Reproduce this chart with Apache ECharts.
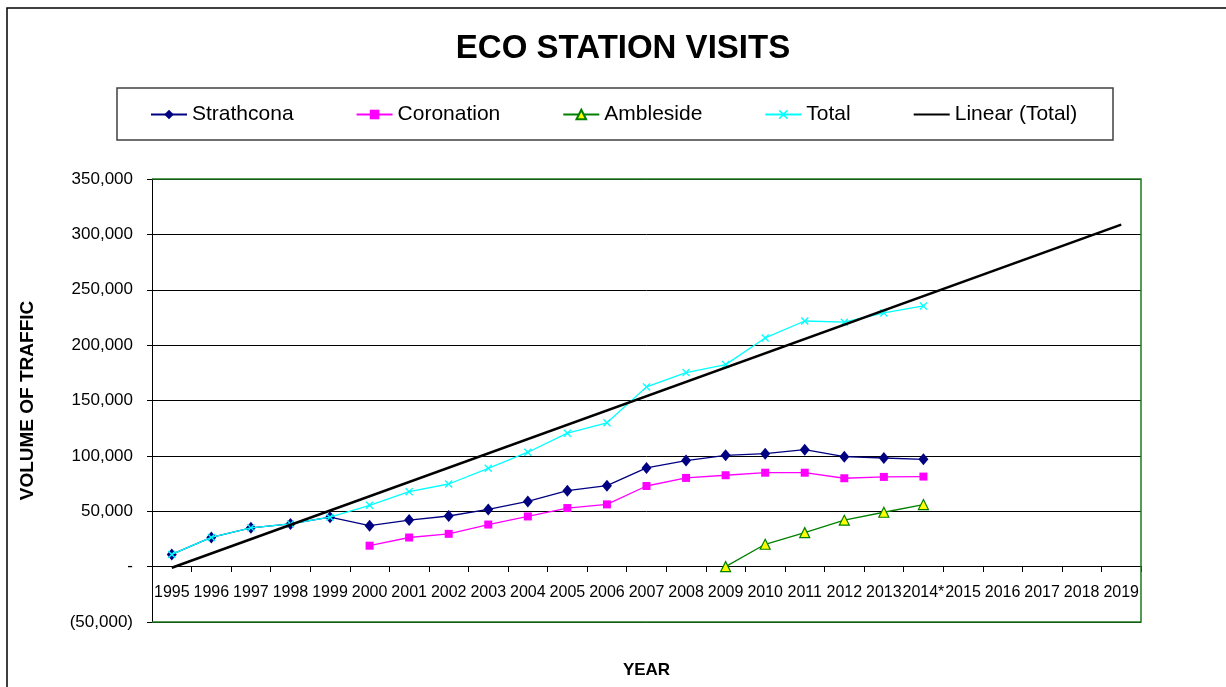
<!DOCTYPE html>
<html>
<head>
<meta charset="utf-8">
<script src="https://cdn.jsdelivr.net/npm/echarts@6/dist/echarts.min.js"></script>
<style>html,body{margin:0;padding:0;background:#fff;}#c{width:1226px;height:687px;}</style>
</head>
<body>
<div id="c"></div>
<script>
var categories = ['1995','1996','1997','1998','1999','2000','2001','2002','2003','2004','2005','2006','2007','2008','2009','2010','2011','2012','2013','2014*','2015','2016','2017','2018','2019'];
var strathcona = [11000, 26400, 35000, 38600, 44600, 37000, 42000, 45700, 51600, 58900, 68600, 73100, 89100, 95800, 100500, 102000, 105600, 99300, 98100, 96900];
var coronation = [null, null, null, null, null, 18900, 26300, 29600, 38000, 45300, 52900, 56200, 72800, 80100, 82500, 84800, 84800, 79800, 81000, 81300];
var ambleside = [null, null, null, null, null, null, null, null, null, null, null, null, null, null, 0, 20200, 30700, 41900, 49100, 56000];
var total = [11000, 26400, 35000, 38600, 44600, 55400, 67700, 74600, 88800, 103300, 120500, 129900, 162300, 175200, 182400, 206500, 221800, 220700, 229100, 235400];
var trendTotal = [-1000, null, null, null, null, null, null, null, null, null, null, null, null, null, null, null, null, null, null, null, null, null, null, null, 308800];

var FONT = 'Liberation Sans, Arial, sans-serif';
var G = {left: 152, right: 1141, top: 179, bottom: 622};
var zeroOffset = 56; // distance from plot bottom (-50,000) up to the 0 line

function fmtY(v) {
  if (v === 0) return '-';
  var s = String(Math.abs(v)).replace(/\B(?=(\d{3})+(?!\d))/g, ',');
  return v < 0 ? '(' + s + ')' : s;
}

var chart = echarts.init(document.getElementById('c'), null, {renderer: 'canvas'});
chart.setOption({
  animation: false,
  backgroundColor: '#fff',
  title: {
    text: 'ECO STATION VISITS',
    left: 618, top: 27, textAlign: 'center',
    textStyle: {fontFamily: FONT, fontSize: 33, fontWeight: 'bold', color: '#000'}
  },
  legend: {
    left: 150, top: 104, padding: 0, itemGap: 62, itemWidth: 36, itemHeight: 12,
    textStyle: {fontFamily: FONT, fontSize: 21, color: '#000'},
    data: ['Strathcona', 'Coronation', 'Ambleside', 'Total',
      {name: 'Linear (Total)', itemStyle: {opacity: 0}}]
  },
  grid: {left: G.left, right: 1226 - G.right, top: G.top, bottom: 687 - G.bottom, containLabel: false},
  xAxis: {
    type: 'category', data: categories, boundaryGap: true, position: 'bottom', offset: -zeroOffset,
    name: 'YEAR', nameLocation: 'middle', nameGap: 96, nameMoveOverlap: false,
    nameTextStyle: {fontFamily: FONT, fontSize: 17, fontWeight: 'bold', color: '#000'},
    axisLine: {show: true, onZero: false, lineStyle: {color: '#000', width: 1}},
    axisTick: {show: true, inside: false, length: 6, lineStyle: {color: '#000'}},
    axisLabel: {interval: 0, margin: 19, fontFamily: FONT, fontSize: 16, color: '#000'},
    splitLine: {show: false}
  },
  yAxis: {
    type: 'value', min: -50000, max: 350000, interval: 50000,
    name: 'VOLUME OF TRAFFIC', nameLocation: 'middle', nameGap: 115, nameRotate: 90,
    nameTextStyle: {fontFamily: FONT, fontSize: 19, fontWeight: 'bold', color: '#000'},
    axisLine: {show: true, onZero: false, lineStyle: {color: '#000', width: 1}},
    axisTick: {show: true, length: 5, lineStyle: {color: '#000'}},
    axisLabel: {margin: 19, fontFamily: FONT, fontSize: 17, color: '#000', formatter: fmtY},
    splitLine: {show: true, lineStyle: {color: '#000', width: 1}}
  },
  graphic: [
    {type: 'rect', shape: {x: 7, y: 8, width: 1240, height: 700}, style: {fill: 'none', stroke: '#000', lineWidth: 1.5}, z: 100, silent: true},
    {type: 'rect', shape: {x: 117, y: 88, width: 996, height: 52}, style: {fill: 'none', stroke: '#404040', lineWidth: 1.5}, z: 100, silent: true},
    {type: 'polyline', shape: {points: [[G.left, G.top], [G.right, G.top], [G.right, G.bottom], [G.left, G.bottom]]}, style: {fill: 'none', stroke: '#1E7B1E', lineWidth: 1.5}, z: 100, silent: true}
  ],
  series: [
    {name: 'Strathcona', type: 'line', data: strathcona, symbol: 'diamond', symbolSize: [10, 12], showAllSymbol: true,
     lineStyle: {color: '#000080', width: 1.3}, itemStyle: {color: '#000080'}, z: 3},
    {name: 'Coronation', type: 'line', data: coronation, symbol: 'rect', symbolSize: 8, showAllSymbol: true,
     lineStyle: {color: '#FF00FF', width: 1.3}, itemStyle: {color: '#FF00FF'}, z: 3},
    {name: 'Ambleside', type: 'line', data: ambleside, symbol: 'triangle', symbolSize: 10, showAllSymbol: true,
     lineStyle: {color: '#008000', width: 1.3}, itemStyle: {color: '#FFFF00', borderColor: '#008000', borderWidth: 1.2}, z: 3},
    {name: 'Total', type: 'line', data: total, showAllSymbol: true,
     symbol: 'path://M0,1.2L1.2,0L5,3.8L8.8,0L10,1.2L6.2,5L10,8.8L8.8,10L5,6.2L1.2,10L0,8.8L3.8,5Z', symbolSize: 8,
     lineStyle: {color: '#00FFFF', width: 1.3}, itemStyle: {color: '#00FFFF'}, z: 4},
    {name: 'Linear (Total)', type: 'line', data: trendTotal, connectNulls: true, symbol: 'none',
     lineStyle: {color: '#000', width: 2.6}, itemStyle: {color: '#000'}, z: 5}
  ]
});
</script>
</body>
</html>
